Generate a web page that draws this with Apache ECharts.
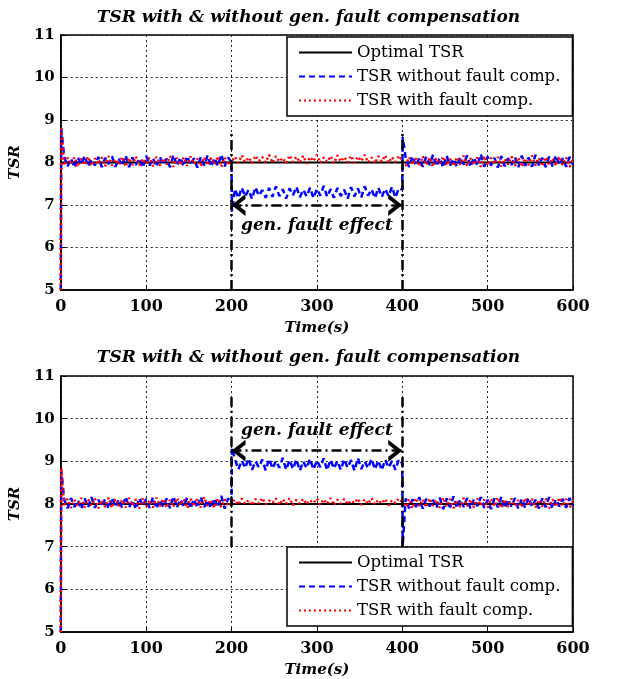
<!DOCTYPE html>
<html>
<head>
<meta charset="utf-8">
<script src="https://cdn.jsdelivr.net/npm/echarts@6/dist/echarts.min.js"></script>
<style>
  html, body { margin: 0; padding: 0; background: #fff; }
  #chart { width: 617px; height: 679px; }
</style>
</head>
<body>
<div id="chart"></div>
<script>
// samples every 4 s, t = 0 .. 600
var sampleStep = 4;
var xTicks = [0, 100, 200, 300, 400, 500, 600];
var yTicks = [5, 6, 7, 8, 9, 10, 11];
var seriesNames = ['Optimal TSR', 'TSR without fault comp.', 'TSR with fault comp.'];
var titleText = 'TSR with & without gen. fault compensation';
var faultStart = 200, faultEnd = 400;

var optimalTime = [0, 600];
var optimalTsr = [8, 8];

// ---- top plot: blue (without comp.) ----
var blueTopA = [8.14, 7.91, 8.10, 7.88, 8.12, 7.95, 8.16, 7.90, 8.08, 7.93,
  8.13, 7.89, 8.11, 7.96, 8.15, 7.90, 8.09, 7.92, 8.17, 7.89,
  8.12, 7.94, 8.10, 7.88, 8.16, 7.93, 8.11, 7.90, 8.14, 7.95,
  8.09, 7.89, 8.18, 7.92, 8.12, 7.91, 8.15, 7.94, 8.10, 7.88,
  8.13, 7.93, 8.17, 7.90, 8.11, 7.92, 8.19, 7.91, 8.12, 8.00];
var blueTopB = [7.38, 7.16, 7.41, 7.20, 7.36, 7.14, 7.42, 7.22, 7.35, 7.17,
  7.40, 7.19, 7.44, 7.21, 7.37, 7.15, 7.39, 7.23, 7.43, 7.18,
  7.36, 7.20, 7.41, 7.16, 7.38, 7.22, 7.45, 7.19, 7.37, 7.17,
  7.40, 7.21, 7.36, 7.15, 7.42, 7.20, 7.39, 7.18, 7.44, 7.22,
  7.37, 7.16, 7.41, 7.19, 7.38, 7.21, 7.43, 7.17, 7.40, 7.36];
var blueTopC = [8.12, 7.89, 8.15, 7.92, 8.10, 7.90, 8.14, 7.94, 8.18, 7.91,
  8.11, 7.88, 8.16, 7.93, 8.09, 7.90, 8.13, 7.95, 8.17, 7.89,
  8.12, 7.92, 8.20, 7.90, 8.14, 7.93, 8.11, 7.88, 8.15, 7.91,
  8.10, 7.94, 8.13, 7.89, 8.16, 7.92, 8.12, 7.90, 8.18, 7.93,
  8.11, 7.89, 8.14, 7.91, 8.17, 7.94, 8.10, 7.90, 8.13, 7.95];
var blueTopEdges = [[0.5, 8.8], [200.5, 6.85], [400.5, 8.6]];

// ---- top plot: red (with comp.) ----
var redTopA = [7.93, 8.11, 7.95, 8.13, 7.90, 8.09, 7.94, 8.14, 7.92, 8.10,
  7.96, 8.12, 7.91, 8.15, 7.93, 8.08, 7.95, 8.13, 7.90, 8.11,
  7.94, 8.14, 7.92, 8.09, 7.96, 8.12, 7.91, 8.13, 7.93, 8.10,
  7.95, 8.15, 7.90, 8.11, 7.94, 8.12, 7.92, 8.14, 7.96, 8.09,
  7.91, 8.13, 7.93, 8.11, 7.95, 8.15, 7.90, 8.12, 7.94, 8.02];
var redTopB = [8.14, 7.99, 8.17, 8.01, 8.12, 7.98, 8.16, 8.03, 8.13, 8.00,
  8.18, 7.99, 8.15, 8.02, 8.11, 7.98, 8.17, 8.01, 8.14, 8.00,
  8.16, 7.97, 8.13, 8.03, 8.18, 7.99, 8.12, 8.01, 8.15, 7.98,
  8.17, 8.02, 8.13, 8.00, 8.16, 7.99, 8.14, 8.03, 8.18, 8.00,
  8.12, 7.98, 8.15, 8.02, 8.17, 7.99, 8.13, 8.01, 8.16, 8.04];
var redTopC = [7.92, 8.13, 7.95, 8.10, 7.91, 8.15, 7.94, 8.12, 7.90, 8.11,
  7.96, 8.14, 7.93, 8.09, 7.91, 8.13, 7.95, 8.16, 7.92, 8.10,
  7.94, 8.12, 7.90, 8.15, 7.93, 8.11, 7.96, 8.13, 7.91, 8.09,
  7.95, 8.14, 7.92, 8.12, 7.90, 8.10, 7.94, 8.16, 7.93, 8.11,
  7.91, 8.13, 7.95, 8.10, 7.92, 8.14, 7.94, 8.12, 7.90, 8.08];
var redTopEdges = [[0.5, 8.85]];

// ---- bottom plot: blue ----
var blueBotA = [8.11, 7.90, 8.14, 7.93, 8.09, 7.88, 8.13, 7.92, 8.16, 7.91,
  8.10, 7.94, 8.12, 7.89, 8.15, 7.93, 8.11, 7.90, 8.17, 7.92,
  8.09, 7.88, 8.14, 7.95, 8.12, 7.91, 8.16, 7.89, 8.10, 7.93,
  8.13, 7.90, 8.18, 7.92, 8.11, 7.94, 8.15, 7.89, 8.12, 7.91,
  8.17, 7.93, 8.10, 7.90, 8.14, 7.92, 8.19, 7.89, 8.13, 8.00];
var blueBotB = [9.05, 8.81, 9.02, 8.84, 9.07, 8.80, 9.00, 8.86, 9.04, 8.79,
  9.06, 8.83, 9.01, 8.85, 9.08, 8.80, 9.03, 8.82, 9.05, 8.78,
  9.00, 8.84, 9.06, 8.81, 9.02, 8.86, 9.07, 8.79, 9.04, 8.83,
  9.01, 8.80, 9.05, 8.85, 9.03, 8.78, 9.08, 8.82, 9.00, 8.84,
  9.06, 8.81, 9.02, 8.79, 9.04, 8.85, 9.01, 8.80, 9.05, 8.95];
var blueBotC = [8.13, 7.90, 8.11, 7.93, 8.16, 7.89, 8.12, 7.94, 8.10, 7.91,
  8.15, 7.88, 8.13, 7.92, 8.18, 7.90, 8.11, 7.93, 8.14, 7.89,
  8.12, 7.95, 8.16, 7.91, 8.10, 7.88, 8.13, 7.92, 8.17, 7.90,
  8.11, 7.94, 8.14, 7.89, 8.12, 7.91, 8.15, 7.93, 8.10, 7.90,
  8.13, 7.92, 8.16, 7.89, 8.11, 7.94, 8.12, 7.91, 8.14, 7.96];
var blueBotEdges = [[0.5, 8.8], [200.5, 9.32], [400.5, 7.0]];

// ---- bottom plot: red ----
var redBotA = [7.94, 8.12, 7.91, 8.10, 7.95, 8.14, 7.92, 8.11, 7.96, 8.13,
  7.90, 8.09, 7.93, 8.15, 7.91, 8.12, 7.95, 8.10, 7.92, 8.14,
  7.96, 8.11, 7.90, 8.13, 7.94, 8.09, 7.92, 8.15, 7.95, 8.12,
  7.91, 8.10, 7.93, 8.14, 7.96, 8.11, 7.90, 8.13, 7.94, 8.12,
  7.92, 8.16, 7.95, 8.10, 7.91, 8.13, 7.93, 8.11, 7.95, 8.03];
var redBotB = [8.10, 7.98, 8.13, 8.00, 8.09, 7.97, 8.12, 8.01, 8.14, 7.99,
  8.08, 8.02, 8.13, 7.98, 8.11, 8.00, 8.14, 7.97, 8.10, 8.01,
  8.12, 7.99, 8.09, 8.02, 8.13, 7.98, 8.11, 8.00, 8.14, 7.97,
  8.10, 8.01, 8.12, 7.99, 8.08, 8.02, 8.13, 7.98, 8.11, 8.00,
  8.14, 7.99, 8.10, 8.01, 8.12, 7.97, 8.09, 8.02, 8.13, 8.04];
var redBotC = [7.93, 8.12, 7.90, 8.14, 7.95, 8.11, 7.92, 8.13, 7.96, 8.10,
  7.91, 8.15, 7.94, 8.12, 7.90, 8.09, 7.93, 8.14, 7.95, 8.11,
  7.92, 8.13, 7.96, 8.10, 7.91, 8.12, 7.94, 8.15, 7.90, 8.11,
  7.93, 8.13, 7.95, 8.09, 7.92, 8.14, 7.96, 8.12, 7.91, 8.10,
  7.94, 8.13, 7.90, 8.11, 7.93, 8.15, 7.95, 8.12, 7.92, 8.06];
var redBotEdges = [[0.5, 8.85]];

var startValue = 5.0;

// fault annotation levels (data units)
var topMarks = { lineFrom: 5, lineTo: 8.7, arrowY: 7 };
var botMarks = { lineFrom: 7, lineTo: 10.5, arrowY: 9.25 };
var faultLabel = 'gen. fault effect';

function toPoints(segA, segB, segC, edges) {
  var vals = [startValue].concat(segA, segB, segC);
  var pts = vals.map(function (v, i) { return [i * sampleStep, v]; });
  return pts.concat(edges).sort(function (a, b) { return a[0] - b[0]; });
}

var serifBI = { fontFamily: 'DejaVu Serif', fontWeight: 'bold', fontStyle: 'italic', color: '#000' };
var dashDot = [10, 4, 2, 4];
// open chevron, tip pointing up; a tiny dummy piece above keeps the tip at the symbol centre
var chevron = 'path://M10,-15 L10.01,-15 L10,-14.99 Z M10,0 L20,15 L15.5,15 L10,6.5 L4.5,15 L0,15 Z';

function makeAxes(gi) {
  var x = {
    type: 'value', gridIndex: gi, min: 0, max: 600, interval: 100,
    name: 'Time(s)', nameLocation: 'middle', nameGap: 31,
    nameTextStyle: Object.assign({ fontSize: 15 }, serifBI),
    axisLine: { show: true, onZero: false, lineStyle: { color: '#000', width: 1.5 } },
    axisTick: { show: true, inside: true, length: 5, lineStyle: { color: '#000' } },
    axisLabel: { fontFamily: 'DejaVu Serif', fontWeight: 'bold', fontSize: 16, color: '#000', margin: 9 },
    splitLine: { show: true, lineStyle: { color: '#222', type: [2, 3], width: 1 } }
  };
  var y = {
    type: 'value', gridIndex: gi, min: 5, max: 11, interval: 1,
    name: 'TSR', nameLocation: 'middle', nameGap: 30,
    nameTextStyle: Object.assign({ fontSize: 15 }, serifBI),
    axisLine: { show: true, onZero: false, lineStyle: { color: '#000', width: 1.5 } },
    axisTick: { show: true, inside: true, length: 5, lineStyle: { color: '#000' } },
    axisLabel: { fontFamily: 'DejaVu Serif', fontWeight: 'bold', fontSize: 15, color: '#000', margin: 6 },
    splitLine: { show: true, lineStyle: { color: '#222', type: [2, 3], width: 1 } }
  };
  return { x: x, y: y };
}

function makeSeries(gi, blue, red, marks, labelPos) {
  return [
    {
      name: seriesNames[0], type: 'line', xAxisIndex: gi, yAxisIndex: gi,
      data: optimalTime.map(function (t, i) { return [t, optimalTsr[i]]; }),
      showSymbol: false, symbol: 'none',
      lineStyle: { color: '#000', width: 2 }, itemStyle: { color: '#000' }, z: 2
    },
    {
      name: seriesNames[1], type: 'line', xAxisIndex: gi, yAxisIndex: gi,
      data: blue, showSymbol: false, symbol: 'none',
      lineStyle: { color: '#0000ff', width: 2.5, type: [6, 4] }, itemStyle: { color: '#0000ff' }, z: 3
    },
    {
      name: seriesNames[2], type: 'line', xAxisIndex: gi, yAxisIndex: gi,
      data: red, showSymbol: false, symbol: 'none',
      lineStyle: { color: '#ff0000', width: 2.5, type: [2, 3] }, itemStyle: { color: '#ff0000' }, z: 4
    },
    {
      name: 'fault', type: 'line', xAxisIndex: gi, yAxisIndex: gi,
      data: [], z: 6, silent: true,
      markLine: {
        silent: true, symbol: ['none', 'none'], animation: false,
        lineStyle: { color: '#000', width: 2.5, type: dashDot },
        label: { show: false },
        data: [
          [{ coord: [faultStart, marks.lineFrom] }, { coord: [faultStart, marks.lineTo] }],
          [{ coord: [faultEnd, marks.lineFrom] }, { coord: [faultEnd, marks.lineTo] }],
          [
            { coord: [faultStart, marks.arrowY], symbol: chevron, symbolSize: [22, 28], itemStyle: { color: '#000' } },
            {
              coord: [faultEnd, marks.arrowY], symbol: chevron, symbolSize: [22, 28], itemStyle: { color: '#000' },
              label: {
                show: true, formatter: faultLabel, position: labelPos, distance: 12,
                fontFamily: 'DejaVu Serif', fontWeight: 'bold', fontStyle: 'italic', fontSize: 17, color: '#000'
              }
            }
          ]
        ]
      }
    }
  ];
}

var chart = echarts.init(document.getElementById('chart'));
var axTop = makeAxes(0), axBot = makeAxes(1);

function legendAt(top) {
  return {
    data: seriesNames, left: 287, top: top, orient: 'vertical',
    backgroundColor: '#fff', borderColor: '#000', borderWidth: 1.5,
    padding: [7, 12, 7, 11], itemGap: 7, itemWidth: 53, itemHeight: 18,
    itemStyle: { opacity: 0 },
    textStyle: { fontFamily: 'DejaVu Serif', fontSize: 16.5, color: '#000' },
    selectedMode: false
  };
}

chart.setOption({
  animation: false,
  backgroundColor: '#fff',
  title: [
    { text: titleText, left: 'center', top: 4, textStyle: Object.assign({ fontSize: 17 }, serifBI) },
    { text: titleText, left: 'center', top: 344, textStyle: Object.assign({ fontSize: 17 }, serifBI) }
  ],
  legend: [legendAt(37), legendAt(547)],
  grid: [
    { left: 58, top: 35, width: 515, height: 255, show: true, borderColor: '#000', borderWidth: 1.5 },
    { left: 58, top: 376, width: 515, height: 256, show: true, borderColor: '#000', borderWidth: 1.5 }
  ],
  xAxis: [axTop.x, axBot.x],
  yAxis: [axTop.y, axBot.y],
  series: [].concat(
    makeSeries(0, toPoints(blueTopA, blueTopB, blueTopC, blueTopEdges),
      toPoints(redTopA, redTopB, redTopC, redTopEdges), topMarks, 'insideMiddleBottom'),
    makeSeries(1, toPoints(blueBotA, blueBotB, blueBotC, blueBotEdges),
      toPoints(redBotA, redBotB, redBotC, redBotEdges), botMarks, 'insideMiddleTop')
  )
});
</script>
</body>
</html>
